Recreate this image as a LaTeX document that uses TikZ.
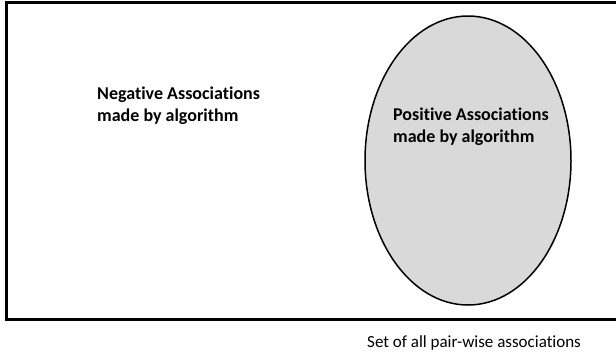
\documentclass[tikz,border=0pt]{standalone}
\usepackage{fontspec}
\setmainfont{Carlito}[Ligatures=NoCommon]
\usetikzlibrary{shapes.geometric}
\tikzset{
  frame/.style={line width=3pt, draw=black},
  posset/.style={ellipse, draw=black, line width=1.5pt, fill=gray!30, minimum width=206pt, minimum height=289pt, inner sep=0pt},
  lbl/.style={align=left, inner sep=0pt, font=\fontsize{18}{22}\selectfont\bfseries},
  captext/.style={inner sep=0pt, font=\fontsize{17}{20}\selectfont}
}
\begin{document}
\begin{tikzpicture}[x=1pt,y=-1pt]
\useasboundingbox (0,0) rectangle (616,360);
\begin{scope}
\clip (0,0) rectangle (616,360);
\draw[frame] (6,2) rectangle (640,319);
\end{scope}
\node[posset] (pos) at (468,160.5) {};
\node[lbl, anchor=base west] (neg) at (97,121) {Negative Associations\\made by algorithm};
\node[lbl, anchor=base west] (postxt) at (393,142) {Positive Associations\\made by algorithm};
\node[captext, anchor=base west] (all) at (367,347) {Set of all pair-wise associations};
\end{tikzpicture}
\end{document}
